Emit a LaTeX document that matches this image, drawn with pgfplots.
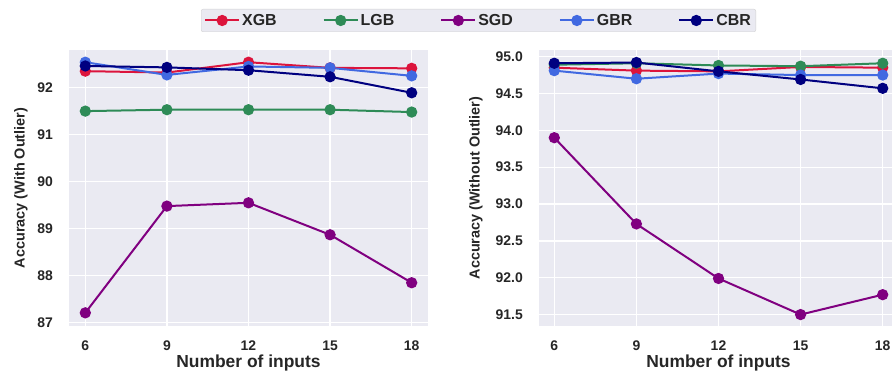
\documentclass[border=0pt]{standalone}
\usepackage{fontspec}
\setmainfont{Liberation Sans}
\usepackage{pgfplots}
\pgfplotsset{compat=1.18}
\definecolor{xgb}{RGB}{220,20,60}
\definecolor{lgb}{RGB}{46,139,87}
\definecolor{sgd}{RGB}{128,0,128}
\definecolor{gbr}{RGB}{65,105,225}
\definecolor{cbr}{RGB}{0,0,128}
\definecolor{bg}{RGB}{234,234,242}
\definecolor{txt}{RGB}{38,38,38}
\pgfplotsset{
  mystyle/.style={
    scale only axis,
    height=276bp,
    axis background/.style={fill=bg},
    axis line style={draw=none},
    grid=major,
    major grid style={white, line width=1.3bp},
    tick style={draw=none},
    major tick length=0pt,
    xtick={6,9,12,15,18},
    ticklabel style={font=\bfseries\fontsize{14}{14}\selectfont, text=txt, inner sep=0pt},
    /pgf/number format/assume math mode=true,
    xticklabel style={yshift=-15bp},
    yticklabel style={xshift=-16bp},
    every axis plot/.append style={line width=2bp, mark=*, mark size=4.6bp, mark options={solid}},
    xlabel={Number of inputs},
    xlabel style={font=\bfseries\fontsize{17.5}{17.5}\selectfont, text=txt, anchor=base, yshift=-41.5bp},
    ylabel style={font=\bfseries\fontsize{14.5}{14.5}\selectfont, text=txt, anchor=center, rotate=0},
    legend image code/.code={\draw[mark repeat=2,mark phase=2] plot coordinates {(0bp,0bp) (17bp,0bp) (34bp,0bp)};},
  }
}
\begin{document}
\begin{tikzpicture}
\path[use as bounding box] (0,0) rectangle (892bp,373bp);
\begin{axis}[mystyle,
  at={(69bp,47bp)}, anchor=south west, width=359bp,
  xmin=5.4, xmax=18.6, ymin=86.93, ymax=92.8,
  ytick={87,88,89,90,91,92},
  xlabel style={at={(axis description cs:0.5,0)}},
  ylabel={Accuracy (With Outlier)},
  ylabel style={at={(axis description cs:-0.1337,0.5)}},
  legend columns=5,
  legend style={at={(1.1407,1.1069)}, anchor=center, draw=black!18, fill=bg, rounded corners=2bp,
    font=\bfseries\fontsize{16}{16}\selectfont, text=txt,
    /tikz/every even column/.append style={column sep=44bp}, inner xsep=3bp, inner ysep=3bp},
]
\addplot[color=xgb] coordinates {(6,92.35)(9,92.32)(12,92.54)(15,92.42)(18,92.41)};
\addlegendentry{XGB}
\addplot[color=lgb] coordinates {(6,91.50)(9,91.53)(12,91.53)(15,91.53)(18,91.48)};
\addlegendentry{LGB}
\addplot[color=sgd] coordinates {(6,87.21)(9,89.48)(12,89.55)(15,88.87)(18,87.85)};
\addlegendentry{SGD}
\addplot[color=gbr] coordinates {(6,92.54)(9,92.27)(12,92.45)(15,92.42)(18,92.25)};
\addlegendentry{GBR}
\addplot[color=cbr] coordinates {(6,92.46)(9,92.43)(12,92.37)(15,92.23)(18,91.89)};
\addlegendentry{CBR}
\end{axis}
\begin{axis}[mystyle,
  at={(539bp,47bp)}, anchor=south west, width=353bp,
  xmin=5.441, xmax=18.34, ymin=91.345, ymax=95.09,
  ytick={91.5,92,92.5,93,93.5,94,94.5,95},
  yticklabels={91.5,92.0,92.5,93.0,93.5,94.0,94.5,95.0},
  xlabel style={at={(axis description cs:0.5085,0)}},
  ylabel={Accuracy (Without Outlier)},
  ylabel style={at={(axis description cs:-0.1785,0.5)}},
]
\addplot[color=xgb] coordinates {(6,94.85)(9,94.81)(12,94.80)(15,94.86)(18,94.85)};
\addplot[color=lgb] coordinates {(6,94.89)(9,94.91)(12,94.88)(15,94.87)(18,94.91)};
\addplot[color=sgd] coordinates {(6,93.90)(9,92.73)(12,91.99)(15,91.50)(18,91.77)};
\addplot[color=gbr] coordinates {(6,94.81)(9,94.70)(12,94.77)(15,94.75)(18,94.75)};
\addplot[color=cbr] coordinates {(6,94.91)(9,94.92)(12,94.80)(15,94.69)(18,94.57)};
\end{axis}
\end{tikzpicture}
\end{document}
